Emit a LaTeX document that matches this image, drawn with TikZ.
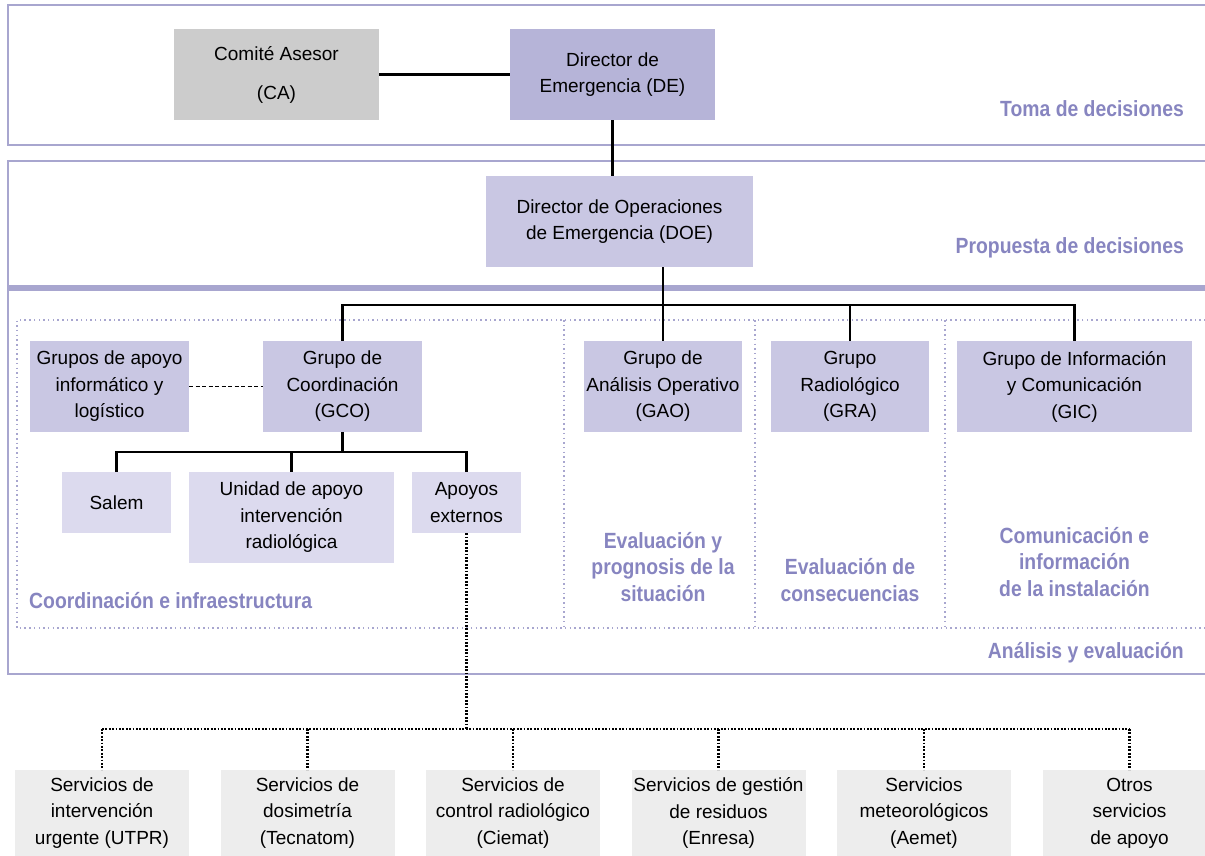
\documentclass[tikz,border=0pt]{standalone}
\usepackage{fontspec}
\setmainfont{Liberation Sans}
\newfontfamily\labfont[FakeStretch=0.88]{Liberation Sans}
\definecolor{bandc}{RGB}{168,166,207}
\definecolor{labc}{RGB}{135,133,192}
\definecolor{decol}{RGB}{182,180,216}
\definecolor{midcol}{RGB}{201,199,227}
\definecolor{lightcol}{RGB}{220,218,238}
\definecolor{cagray}{RGB}{204,204,204}
\definecolor{botgray}{RGB}{237,237,237}
\tikzset{
  bx/.style 2 args={inner sep=0pt, align=center, minimum width=#1, minimum height=#2,
    font=\fontsize{19}{26.5}\selectfont},
  bandline/.style={draw=bandc, line width=2.8pt},
  dotrect/.style={draw=bandc, line width=1.7pt, dash pattern=on 1.5pt off 3.2pt},
  lab/.style={inner sep=0pt, align=center, text=labc,
    font=\labfont\bfseries\fontsize{22}{26.5}\selectfont},
  conn/.style={draw=black, line width=2.5pt},
  dashconn/.style={draw=black, line width=1.5pt, dash pattern=on 4pt off 2.5pt},
  dotconn/.style={draw=black, line width=2.3pt, dash pattern=on 1.8pt off 1.6pt},
}
\begin{document}
\begin{tikzpicture}[x=1pt,y=-1pt]
\useasboundingbox (0,0) rectangle (1205,856);
\clip (0,0) rectangle (1205,856);

% bands
\draw[bandline] (1215,5) -- (8,5) -- (8,145) -- (1215,145);
\draw[bandline] (1215,161) -- (8,161) -- (8,286.5) -- (1215,286.5);
\draw[bandline] (1215,289.5) -- (8,289.5) -- (8,674) -- (1215,674);

% dotted inner frame
\draw[dotrect] (1215,320) -- (17,320) -- (17,628) -- (1215,628);
\draw[dotrect] (564,320) -- (564,628);
\draw[dotrect] (755,320) -- (755,628);
\draw[dotrect] (945,320) -- (945,628);

% boxes
\node[bx={205pt}{91pt}, fill=cagray] (CA) at (276.5,74.5) {Comité Asesor\\[12.5pt](CA)};
\node[bx={205pt}{91pt}, fill=decol] (DE) at (612.5,74.5) {Director de\\Emergencia (DE)};
\node[bx={267pt}{91pt}, fill=midcol] (DOE) at (619.5,221.5) {Director de Operaciones\\de Emergencia (DOE)};

\node[bx={159pt}{91pt}, fill=midcol] (AP) at (109.5,386.5) {Grupos de apoyo\\informático y\\logístico};
\node[bx={159pt}{91pt}, fill=midcol] (GCO) at (342.5,386.5) {Grupo de\\Coordinación\\(GCO)};
\node[bx={158pt}{91pt}, fill=midcol] (GAO) at (663,386.5) {Grupo de\\Análisis Operativo\\(GAO)};
\node[bx={158pt}{91pt}, fill=midcol] (GRA) at (850,386.5) {Grupo\\Radiológico\\(GRA)};
\node[bx={235pt}{91pt}, fill=midcol] (GIC) at (1074.5,386.5) {Grupo de Información\\y Comunicación\\(GIC)};

\node[bx={109pt}{61pt}, fill=lightcol] (SAL) at (116.5,502.5) {Salem};
\node[bx={205pt}{91pt}, fill=lightcol] (UNI) at (291.5,517.5) {Unidad de apoyo\\intervención\\radiológica};
\node[bx={109pt}{61pt}, fill=lightcol] (APE) at (466.5,502.5) {Apoyos\\externos};

\node[bx={174pt}{86pt}, fill=botgray] (s1) at (102,813) {Servicios de\\intervención\\urgente (UTPR)};
\node[bx={174pt}{86pt}, fill=botgray] (s2) at (307.5,813) {Servicios de\\dosimetría\\(Tecnatom)};
\node[bx={174pt}{86pt}, fill=botgray] (s3) at (513,813) {Servicios de\\control radiológico\\(Ciemat)};
\node[bx={174pt}{86pt}, fill=botgray] (s4) at (718.5,813) {Servicios de gestión\\de residuos\\(Enresa)};
\node[bx={174pt}{86pt}, fill=botgray] (s5) at (924,813) {Servicios\\meteorológicos\\(Aemet)};
\node[bx={174pt}{86pt}, fill=botgray] (s6) at (1129.5,813) {Otros\\servicios\\de apoyo};

% labels
\node[lab, anchor=base east] (L1) at (1184,117) {Toma de decisiones};
\node[lab, anchor=base east] (L2) at (1184,253) {Propuesta de decisiones};
\node[lab, anchor=base east] (L3) at (1184,658) {Análisis y evaluación};
\node[lab, anchor=base west] (L4) at (29,608) {Coordinación e infraestructura};
\node[lab] (L5) at (663,567) {Evaluación y\\prognosis de la\\situación};
\node[lab] (L6) at (850,580) {Evaluación de\\consecuencias};
\node[lab] (L7) at (1074.5,562) {Comunicación e\\información\\de la instalación};

% connectors
\coordinate (busA) at (0,305);
\coordinate (busB) at (0,452);
\coordinate (busC) at (0,729);
\draw[conn] (CA.east) -- (DE.west);
\draw[conn] (DE.south) -- (DE.south |- DOE.north);
\draw[conn] (DOE.south -| GAO.north) -- (GAO.north);
\draw[conn] (GCO.north) -- (GCO.north |- busA) -- (GIC.north |- busA) -- (GIC.north);
\draw[conn] (GRA.north |- busA) -- (GRA.north);
\draw[dashconn] (AP.east) -- (GCO.west);
\draw[conn] (GCO.south) -- (GCO.south |- busB);
\draw[conn] (SAL.north) -- (SAL.north |- busB) -- (APE.north |- busB) -- (APE.north);
\draw[conn] (UNI.north |- busB) -- (UNI.north);
\draw[dotconn] (APE.south) -- (APE.south |- busC);
\draw[dotconn] (s1.north |- busC) -- (s6.north |- busC);
\foreach \i in {1,...,6} {\draw[dotconn] (s\i.north |- busC) -- (s\i.north);}
\end{tikzpicture}
\end{document}
